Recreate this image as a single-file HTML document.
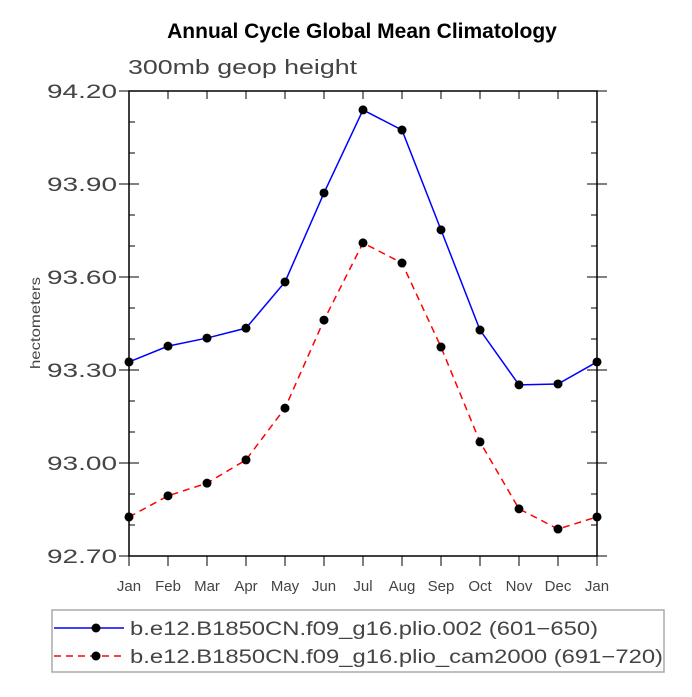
<!DOCTYPE html>
<html><head><meta charset="utf-8"><style>
body{margin:0;background:#fff}
svg text{font-family:"Liberation Sans",sans-serif}
</style></head><body>
<svg id="chart" width="692" height="692" viewBox="0 0 692 692" xmlns="http://www.w3.org/2000/svg">
<text x="362" y="38" text-anchor="middle" font-size="21" font-weight="bold">Annual Cycle Global Mean Climatology</text>
<text x="128" y="74" font-size="20" fill="#444" textLength="229" lengthAdjust="spacingAndGlyphs">300mb geop height</text>
<text transform="translate(40,323) rotate(-90)" text-anchor="middle" font-size="14" fill="#444" textLength="92" lengthAdjust="spacingAndGlyphs">hectometers</text>
<g id="axes"></g>
<g id="series"></g>
<g>
<rect x="52" y="610" width="612" height="62" fill="#fff" stroke="#aaa" stroke-width="1.5"/>
<line x1="54" y1="628" x2="124" y2="628" stroke="#00f" stroke-width="1.5"/>
<circle cx="96" cy="628" r="4.5"/>
<text x="130" y="635" font-size="19" fill="#444" textLength="468" lengthAdjust="spacingAndGlyphs">b.e12.B1850CN.f09_g16.plio.002 (601−650)</text>
<line x1="54" y1="656" x2="124" y2="656" stroke="#f00" stroke-width="1.5" stroke-dasharray="7,5"/>
<circle cx="96" cy="656" r="4.5"/>
<text x="130" y="663" font-size="19" fill="#444" textLength="533" lengthAdjust="spacingAndGlyphs">b.e12.B1850CN.f09_g16.plio_cam2000 (691−720)</text>
</g>
</svg>
<script>
const months=["Jan","Feb","Mar","Apr","May","Jun","Jul","Aug","Sep","Oct","Nov","Dec","Jan"];
const yTicks=[92.70,93.00,93.30,93.60,93.90,94.20];
const seriesBlue=[93.326,93.377,93.403,93.435,93.584,93.871,94.139,94.074,93.752,93.429,93.252,93.255,93.326];
const seriesRed=[92.826,92.894,92.935,93.010,93.177,93.461,93.710,93.645,93.374,93.068,92.852,92.787,92.826];
const NS="http://www.w3.org/2000/svg";
const L=129,R=597,T=91,B=556,ymin=92.7,ymax=94.2;
const xs=i=>L+(R-L)*i/(months.length-1);
const ys=v=>B-(v-ymin)/(ymax-ymin)*(B-T);
function mk(tag,attrs,parent){const e=document.createElementNS(NS,tag);for(const k in attrs)e.setAttribute(k,attrs[k]);parent.appendChild(e);return e;}
const ax=document.getElementById('axes');
const frame=mk('rect',{x:L,y:T,width:R-L,height:B-T,fill:'none',stroke:'#000','stroke-width':1.5},ax);


months.forEach((m,i)=>{
  const x=xs(i);
  mk('line',{x1:x,y1:B,x2:x,y2:B+10,stroke:'#000','stroke-width':1},ax);
  mk('line',{x1:x,y1:T,x2:x,y2:T+8,stroke:'#000','stroke-width':1},ax);
  const t=mk('text',{x:x,y:B+35,'text-anchor':'middle','font-size':15,fill:'#444'},ax);
  t.textContent=m;
  
  
});
yTicks.forEach(v=>{
  const y=ys(v);
  mk('line',{x1:L-10,y1:y,x2:L+10,y2:y,stroke:'#000','stroke-width':1},ax);
  mk('line',{x1:R-10,y1:y,x2:R+10,y2:y,stroke:'#000','stroke-width':1},ax);
  const t=mk('text',{x:L-12,y:y+7,'text-anchor':'end','font-size':19,fill:'#444',textLength:70,lengthAdjust:'spacingAndGlyphs'},ax);
  t.textContent=v.toFixed(2);
  
  
});
for(let v=ymin;v<ymax-0.001;v+=0.1){if(Math.abs(((v-ymin)/0.3)%1)<0.01||Math.abs(((v-ymin)/0.3)%1-1)<0.01)continue;const y=ys(v);
  mk('line',{x1:L,y1:y,x2:L+6,y2:y,stroke:'#000'},ax);mk('line',{x1:R-6,y1:y,x2:R,y2:y,stroke:'#000'},ax);}
const sg=document.getElementById('series');
function draw(vals,color,dash,name){
  const p=mk('polyline',{points:vals.map((v,i)=>xs(i)+','+ys(v)).join(' '),fill:'none',stroke:color,'stroke-width':1.5,'stroke-dasharray':dash},sg);
  
  
  vals.forEach((v,i)=>{const c=mk('circle',{cx:xs(i),cy:ys(v),r:4.5,fill:'#000'},sg);
    
    });
}
draw(seriesBlue,'#00f','none','plio002');
draw(seriesRed,'#f00','7,5','cam2000');
</script>
</body></html>
